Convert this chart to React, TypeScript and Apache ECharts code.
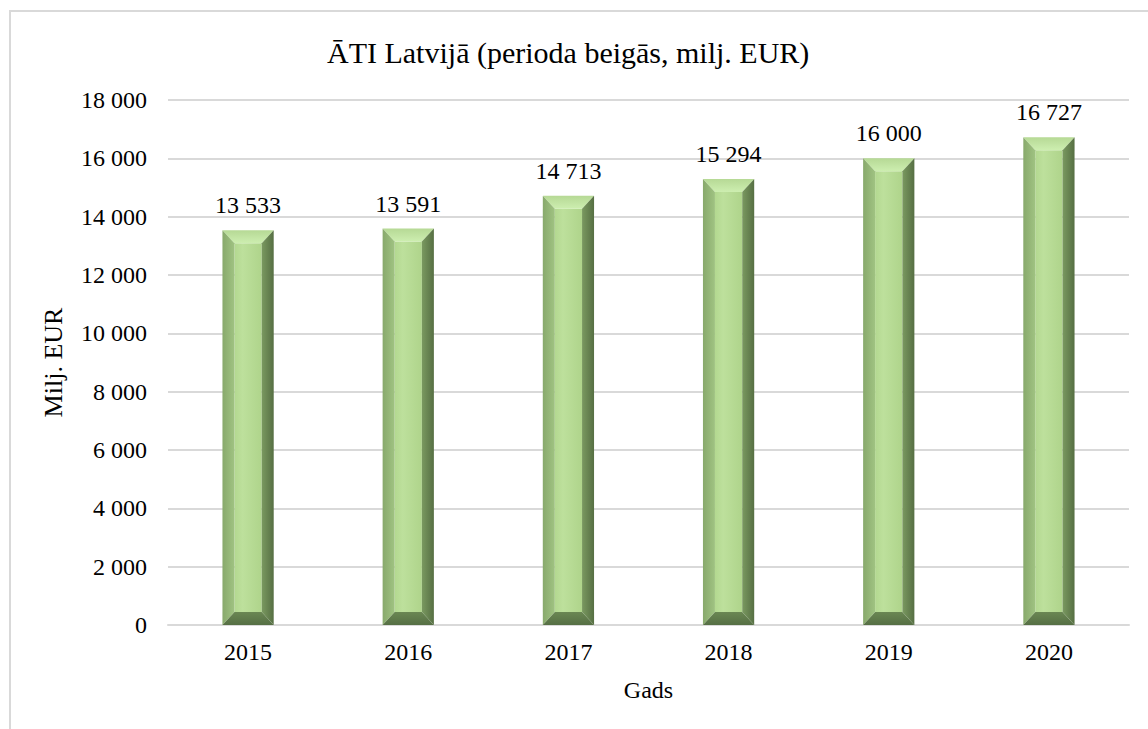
import React, { useEffect, useRef } from "react";
import * as echarts from "echarts";

const categories = ["2015", "2016", "2017", "2018", "2019", "2020"];
const values = [13533, 13591, 14713, 15294, 16000, 16727];
const yTicks = { min: 0, max: 18000, interval: 2000 };

const fmt = (v: number) => String(Math.round(v)).replace(/\B(?=(\d{3})+(?!\d))/g, " ");
const FONT = "'Liberation Serif', 'Times New Roman', serif";

export default function App() {
  const ref = useRef<HTMLDivElement>(null);
  useEffect(() => {
    document.body.style.margin = "0";
    const chart = echarts.init(ref.current!, null, { renderer: "svg" });
    const renderItem = (params: any, api: any) => {
      const idx = api.value(0);
      const v = api.value(1);
      const top = api.coord([idx, v]);
      const base = api.coord([idx, 0]);
      const bw = api.size([1, 0])[0] * 0.32;
      const x0 = top[0] - bw / 2;
      const x1 = top[0] + bw / 2;
      const y0 = top[1];
      const y1 = base[1];
      const b = 12;
      const bt = 13;
      return {
        type: "group",
        children: [
          {
            type: "rect",
            shape: { x: x0 + b, y: y0 + bt, width: bw - 2 * b, height: y1 - y0 - 2 * bt },
            style: {
              fill: new echarts.graphic.LinearGradient(0, 0, 1, 0, [
                { offset: 0, color: "#b3d890" },
                { offset: 0.3, color: "#bde09c" },
                { offset: 1, color: "#afd48b" },
              ]),
            },
          },
          {
            type: "polygon",
            shape: { points: [[x0, y0], [x1, y0], [x1 - b, y0 + bt], [x0 + b, y0 + bt]] },
            style: {
              fill: new echarts.graphic.LinearGradient(0, 0, 0, 1, [
                { offset: 0, color: "#b6d995" },
                { offset: 1, color: "#cdeeb0" },
              ]),
            },
          },
          {
            type: "polygon",
            shape: { points: [[x0, y0], [x0 + b, y0 + bt], [x0 + b, y1 - bt], [x0, y1]] },
            style: {
              fill: new echarts.graphic.LinearGradient(0, 0, 1, 0, [
                { offset: 0, color: "#88a96c" },
                { offset: 1, color: "#a0c382" },
              ]),
            },
          },
          {
            type: "polygon",
            shape: { points: [[x1, y0], [x1, y1], [x1 - b, y1 - bt], [x1 - b, y0 + bt]] },
            style: {
              fill: new echarts.graphic.LinearGradient(0, 0, 1, 0, [
                { offset: 0, color: "#7a9960" },
                { offset: 1, color: "#566f43" },
              ]),
            },
          },
          {
            type: "polygon",
            shape: { points: [[x0, y1], [x0 + b, y1 - bt], [x1 - b, y1 - bt], [x1, y1]] },
            style: {
              fill: new echarts.graphic.LinearGradient(0, 0, 0, 1, [
                { offset: 0, color: "#6a8753" },
                { offset: 1, color: "#566f44" },
              ]),
            },
          },
        ],
      };
    };
    chart.setOption({
      animation: false,
      backgroundColor: "#ffffff",
      title: {
        text: "ĀTI Latvijā (perioda beigās, milj. EUR)",
        left: 322,
        top: 32,
        textStyle: { fontFamily: FONT, fontSize: 30, fontWeight: "normal", color: "#000" },
      },
      grid: { left: 168, right: 19, top: 100, bottom: 104 },
      xAxis: {
        type: "category",
        data: categories,
        name: "Gads",
        nameLocation: "middle",
        nameGap: 53,
        nameTextStyle: { fontFamily: FONT, fontSize: 24, color: "#000" },
        axisLine: { show: true, lineStyle: { color: "#d9d9d9", width: 2 } },
        axisTick: { show: false },
        axisLabel: { fontFamily: FONT, fontSize: 24, color: "#000", margin: 15 },
      },
      yAxis: {
        type: "value",
        min: yTicks.min,
        max: yTicks.max,
        interval: yTicks.interval,
        name: "Milj. EUR",
        nameLocation: "middle",
        nameGap: 102,
        nameTextStyle: { fontFamily: FONT, fontSize: 26, color: "#000" },
        axisLine: { show: false },
        axisTick: { show: false },
        splitLine: { lineStyle: { color: "#d9d9d9", width: 2 } },
        axisLabel: { fontFamily: FONT, fontSize: 24, color: "#000", margin: 21, formatter: (v: number) => fmt(v) },
      },
      series: [
        {
          type: "custom",
          renderItem,
          data: values.map((v, i) => [i, v]),
          encode: { x: 0, y: 1 },
          z: 3,
        },
        {
          type: "bar",
          data: values,
          barWidth: "32%",
          itemStyle: { color: "rgba(0,0,0,0)" },
          label: {
            show: true,
            position: "top",
            distance: 13,
            fontFamily: FONT,
            fontSize: 24,
            color: "#000",
            formatter: (p: any) => fmt(p.value),
          },
          z: 4,
        },
      ],
    });
    return () => chart.dispose();
  }, []);
  return (
    <div style={{ position: "relative", width: 1148, height: 729, background: "#fff" }}>
      <div
        style={{
          position: "absolute",
          left: 9,
          top: 10,
          width: 1148,
          height: 729,
          borderLeft: "2px solid #d9d9d9",
          borderTop: "2px solid #d9d9d9",
          pointerEvents: "none",
          zIndex: 2,
        }}
      />
      <div ref={ref} style={{ position: "absolute", left: 0, top: 0, width: 1148, height: 729 }} />
    </div>
  );
}
